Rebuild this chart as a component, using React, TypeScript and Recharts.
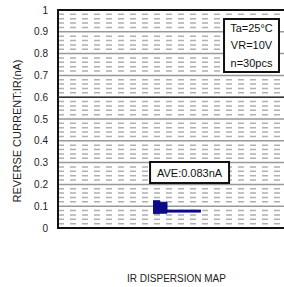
import React from "react";
import {
  ComposedChart,
  Area,
  XAxis,
  YAxis,
  CartesianGrid,
  ReferenceLine,
  ReferenceArea,
  Label,
} from "recharts";

// Y ticks (reverse current, nA)
const yTicks = [0, 0.1, 0.2, 0.3, 0.4, 0.5, 0.6, 0.7, 0.8, 0.9, 1];
// Minor dashed grid values
const minorTicks = [
  0.02, 0.04, 0.06, 0.08, 0.12, 0.14, 0.16, 0.18, 0.22, 0.24, 0.26, 0.28,
  0.32, 0.34, 0.36, 0.38, 0.42, 0.44, 0.46, 0.48, 0.52, 0.54, 0.56, 0.58,
  0.62, 0.64, 0.66, 0.68, 0.72, 0.74, 0.76, 0.78, 0.82, 0.84, 0.86, 0.88,
  0.92, 0.94, 0.96, 0.98,
];
// Dispersion map (horizontal position, current range low/high)
const distX = [41.5, 44.5, 47.6, 62.4];
const distLow = [0.066, 0.068, 0.073, 0.073];
const distHigh = [0.125, 0.118, 0.082, 0.082];

// Annotation texts
const condLines = ["Ta=25\u00b0C", "VR=10V", "n=30pcs"];
const aveText = "AVE:0.083nA";
const yTitle = "REVERSE CURRENT:IR(nA)";
const xTitle = "IR DISPERSION MAP";

const data = distX.map((x, i) => ({ x, range: [distLow[i], distHigh[i]] }));

const FONT = "'Liberation Sans', Arial, sans-serif";

const MultiLabel = (props: any) => {
  const { viewBox, lines } = props;
  const { x, y, width, height } = viewBox;
  const n = lines.length;
  const step = height / n;
  return (
    <g>
      {lines.map((t: string, i: number) => (
        <text
          key={i}
          x={x + width / 2}
          y={y + step * (i + 0.5)}
          textAnchor="middle"
          dominantBaseline="central"
          fontFamily={FONT}
          fontSize={11}
          fill="#111"
        >
          {t}
        </text>
      ))}
    </g>
  );
};

const YTitle = (props: any) => {
  const { viewBox } = props;
  const cx = viewBox.x - 17;
  const cy = viewBox.y + viewBox.height / 2 + 12;
  return (
    <text
      transform={`translate(${cx}, ${cy}) rotate(-90)`}
      textAnchor="middle"
      dominantBaseline="central"
      fontFamily={FONT}
      fontSize={11}
      fill="#222"
    >
      {yTitle}
    </text>
  );
};

export default function App() {
  return (
    <div
      style={{
        position: "absolute",
        left: 0,
        top: 0,
        width: 284,
        height: 287,
        overflow: "hidden",
        background: "#fff",
      }}
    >
      <ComposedChart
        width={290}
        height={287}
        data={data}
        margin={{ top: 10, right: 3, left: 34, bottom: 0 }}
      >
        <CartesianGrid
          vertical={false}
          horizontalValues={minorTicks}
          stroke="#b0b0b0"
          strokeWidth={1.5}
          strokeDasharray="6 6"
        />
        <CartesianGrid
          vertical={false}
          horizontalValues={yTicks}
          stroke="#999"
          strokeWidth={1.5}
        />
        <XAxis
          type="number"
          dataKey="x"
          domain={[0, 100]}
          height={59}
          tick={false}
          axisLine={false}
          tickLine={false}
        >
          <Label
            value={xTitle}
            position="insideBottom"
            offset={5}
            dx={4}
            style={{ fontFamily: FONT, fontSize: 10, fill: "#222" }}
          />
        </XAxis>
        <YAxis
          type="number"
          domain={[0, 1]}
          ticks={yTicks}
          width={24}
          axisLine={false}
          tickLine={false}
          tickMargin={4}
          interval={0}
          tick={{ fontFamily: FONT, fontSize: 10, fill: "#222" }}
        >
          <Label content={<YTitle />} />
        </YAxis>
        <ReferenceLine y={0.6} stroke="#333" strokeWidth={1.5} />
        <Area
          type="stepAfter"
          dataKey="range"
          stroke="#0a0a8a"
          strokeWidth={1}
          fill="#0a0a8a"
          fillOpacity={1}
          isAnimationActive={false}
          dot={false}
          activeDot={false}
        />
        <ReferenceArea
          x1={72.5}
          x2={96.5}
          y1={0.716}
          y2={0.959}
          fill="#fff"
          fillOpacity={1}
          stroke="#111"
          strokeWidth={2}
          label={<MultiLabel lines={condLines} />}
        />
        <ReferenceArea
          x1={40.2}
          x2={74.7}
          y1={0.206}
          y2={0.303}
          fill="#fff"
          fillOpacity={1}
          stroke="#111"
          strokeWidth={2}
          label={<MultiLabel lines={[aveText]} />}
        />
        <ReferenceArea
          x1={0}
          x2={100}
          y1={0}
          y2={1}
          fill="none"
          stroke="#111"
          strokeWidth={2}
        />
      </ComposedChart>
    </div>
  );
}
